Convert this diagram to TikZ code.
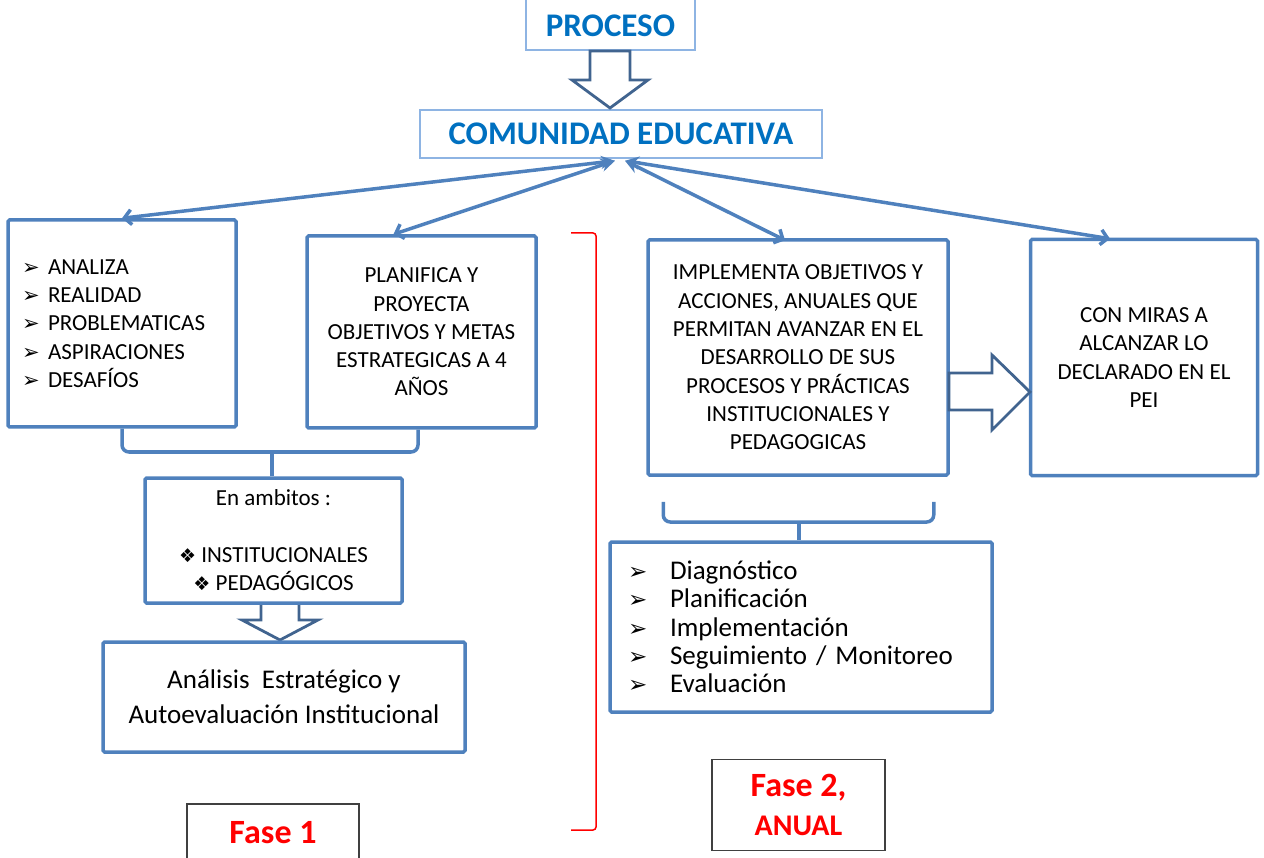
\documentclass[tikz,border=0pt]{standalone}
\usepackage{fontspec}
\setmainfont{Carlito}
\newfontfamily\symf{DejaVu Sans}
\usetikzlibrary{arrows.meta,calc}
\definecolor{boxblue}{HTML}{4F81BD}
\definecolor{lightbl}{HTML}{8EB4E3}
\definecolor{headblue}{HTML}{0070C0}
\definecolor{arrowdark}{HTML}{41648F}
\definecolor{fasegray}{HTML}{404040}
\newcommand{\arrb}{\makebox[26pt][l]{\symf\fontsize{21}{21}\selectfont ➢}}
\newcommand{\arrc}{\makebox[42pt][l]{\symf\fontsize{23}{23}\selectfont ➢}}
\newcommand{\diam}{{\symf\fontsize{19}{19}\selectfont ❖}}
\tikzset{
  bbox/.style={draw=boxblue, line width=3.5pt, rounded corners=1.5pt, fill=white, inner sep=0pt},
  headbox/.style={draw=lightbl, line width=1.5pt, inner sep=0pt, text=headblue, font=\bfseries},
  fasebox/.style={draw=fasegray, line width=1.8pt, inner sep=0pt, text=red, font=\bfseries},
  hollow/.style={draw=arrowdark, line width=2.8pt, fill=white, line join=miter},
  conn/.style={draw=boxblue, line width=3.5pt, {Stealth[length=14pt,width=13pt]}-{Straight Barb[length=7pt,width=15pt]}},
  bracestyle/.style={draw=boxblue, line width=3.5pt, rounded corners=7pt},
  listfont/.style={font=\fontsize{23}{28.3}\selectfont}
}
\begin{document}
\begin{tikzpicture}[x=1pt,y=-1pt]
\useasboundingbox (0,0) rectangle (1264,858);

% hollow arrow ambitos -> analisis (behind the boxes)
\draw[hollow] (261,600) -- (261,620) -- (242,620) -- (280,640) -- (318,620) -- (299,620) -- (299,600);

% header boxes
\node[headbox, font=\bfseries\fontsize{33}{33}\selectfont, minimum width=169pt, text height=40pt, text depth=8pt, inner ysep=6pt, anchor=south] (pro) at (610.5,51) {PROCESO};
\node[headbox, font=\bfseries\fontsize{33}{33}\selectfont, minimum width=402pt, minimum height=48pt] (ce) at (621,134) {COMUNIDAD EDUCATIVA};

% hollow arrow PROCESO -> COMUNIDAD
\draw[hollow] (590,51) -- (590,80) -- (572,80) -- (610,108) -- (648,80) -- (630,80) -- (630,51) -- cycle;

% boxes
\node[bbox, listfont, text width=200pt, inner xsep=14pt, minimum height=207pt, align=left] (b1) at (122,323.5)
 {\arrb ANALIZA\\ \arrb REALIDAD\\ \arrb PROBLEMATICAS\\ \arrb ASPIRACIONES\\ \arrb DESAFÍOS};
\node[bbox, listfont, minimum width=229pt, minimum height=192pt, align=center] (b2) at (421.5,332)
 {PLANIFICA Y\\ PROYECTA\\ OBJETIVOS Y METAS\\ ESTRATEGICAS A 4\\ AÑOS};
\node[bbox, listfont, minimum width=300pt, minimum height=235pt, align=center] (b3) at (798,357.5)
 {IMPLEMENTA OBJETIVOS Y\\ ACCIONES, ANUALES QUE\\ PERMITAN AVANZAR EN EL\\ DESARROLLO DE SUS\\ PROCESOS Y PRÁCTICAS\\ INSTITUCIONALES Y\\ PEDAGOGICAS};
\node[bbox, listfont, minimum width=227pt, minimum height=236pt, align=center] (b4) at (1144,357.5)
 {CON MIRAS A\\ ALCANZAR LO\\ DECLARADO EN EL\\ PEI};
\node[bbox, listfont, minimum width=257pt, minimum height=125pt, align=center] (amb) at (273.5,540.5)
 {En ambitos :\\ \mbox{}\\ \diam\ INSTITUCIONALES\\ \diam\ PEDAGÓGICOS};
\node[bbox, font=\fontsize{27}{35}\selectfont, minimum width=362pt, minimum height=110pt, align=center] (ana) at (284,697)
 {Análisis\ \ Estratégico y\\ Autoevaluación Institucional};
\node[bbox, font=\fontsize{27}{28.3}\selectfont, text width=346pt, inner xsep=18pt, minimum height=170pt, align=left] (b5) at (801,627)
 {\arrc Diagnóstico\\ \arrc Planificación\\ \arrc Implementación\\ \arrc Seguimiento / Monitoreo\\ \arrc Evaluación};

% connectors from COMUNIDAD EDUCATIVA
\draw[conn] ([xshift=-6pt,yshift=-2pt]ce.south) -- (b1.north);
\draw[conn] ([xshift=-6pt,yshift=-2pt]ce.south) -- ([xshift=-28pt]b2.north);
\draw[conn] ([xshift=4pt,yshift=-2pt]ce.south) -- ([xshift=-13pt,yshift=-2pt]b3.north);
\draw[conn] ([xshift=4pt,yshift=-2pt]ce.south) -- ([xshift=-34pt,yshift=-1pt]b4.north);

% brace under boxes 1 and 2
\coordinate (brA) at (0,452);
\draw[bracestyle] (b1.south) -- (b1.south |- brA) -- ([xshift=-3.5pt]b2.south |- brA) -- ([xshift=-3.5pt]b2.south);
\draw[draw=boxblue, line width=3.5pt] ([xshift=-1.5pt]amb.north) -- ([xshift=-1.5pt]amb.north |- brA);

% brace under box 3
\coordinate (brL) at ($(b3.south west)+(17,25)$);
\coordinate (brR) at ($(b3.south east)+(-16,25)$);
\coordinate (brB) at (0,522);
\draw[bracestyle] (brL) -- (brL |- brB) -- (brR |- brB) -- (brR);
\draw[draw=boxblue, line width=3.5pt] ([xshift=-2pt]b5.north) -- ([xshift=-2pt]b5.north |- brB);

% hollow right arrow box3 -> box4
\draw[hollow] (949,373) -- (992,373) -- (992,355) -- (1030,392) -- (992,430) -- (992,410) -- (949,410) -- cycle;

% red bracket
\draw[red, line width=1.5pt, rounded corners=3pt] (571,233) -- (596,233) -- (596,830) -- (571,830);

% phase boxes
\node[fasebox, font=\bfseries\fontsize{34}{34}\selectfont, minimum width=172pt, text height=40pt, text depth=30pt, anchor=north] (f1) at (273,803) {Fase 1};
\node[fasebox, minimum width=173pt, minimum height=91pt, align=center, font=\bfseries\fontsize{34}{39}\selectfont] (f2) at (798.5,805)
 {Fase 2,\\ \fontsize{30}{39}\selectfont ANUAL};
\end{tikzpicture}
\end{document}
